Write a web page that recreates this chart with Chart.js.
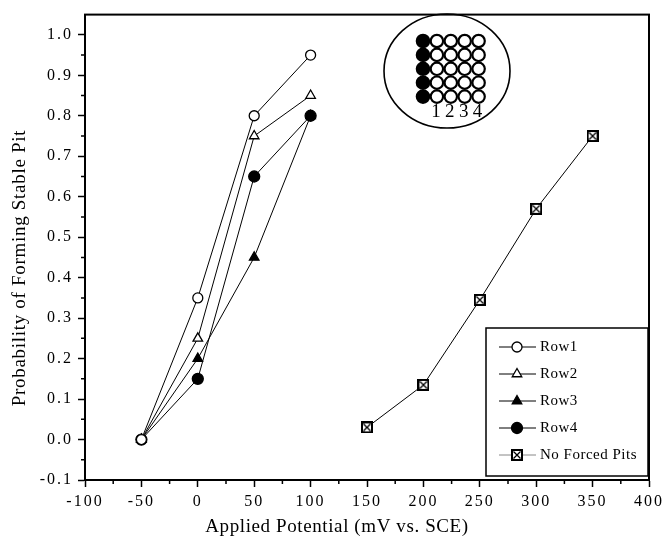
<!DOCTYPE html>
<html>
<head>
<meta charset="utf-8">
<script src="https://cdn.jsdelivr.net/npm/chart.js@4.4.1/dist/chart.umd.min.js"></script>
<style>
  html, body { margin: 0; padding: 0; background: #fff; }
  #wrap { width: 666px; height: 546px; }
</style>
</head>
<body>
<div id="wrap"><canvas id="pits-chart" width="666" height="546"></canvas></div>
<script>
    // applied potential (mV vs. SCE)
    const rowPotentials = [-50, 0, 50, 100];
    const row1 = [0.00, 0.35, 0.80, 0.95];
    const row2 = [0.00, 0.25, 0.75, 0.85];
    const row3 = [0.00, 0.20, 0.45, 0.80];
    const row4 = [0.00, 0.15, 0.65, 0.80];

    const noForcedPotentials = [150, 200, 250, 300, 350];
    const noForced = [0.03, 0.135, 0.345, 0.57, 0.75];

    const seriesNames = ["Row1", "Row2", "Row3", "Row4", "No Forced Pits"];

    const xTicks = [-100, -50, 0, 50, 100, 150, 200, 250, 300, 350, 400];
    const yTicks = [-0.1, 0.0, 0.1, 0.2, 0.3, 0.4, 0.5, 0.6, 0.7, 0.8, 0.9, 1.0];
    const insetColumns = ["1", "2", "3", "4"];

    const serif = "'Liberation Serif', 'DejaVu Serif', serif";

    function toPoints(xs, ys) {
      return xs.map((x, i) => ({ x: x, y: ys[i] }));
    }

    // square with an X through it
    const boxCross = document.createElement("canvas");
    boxCross.width = 12;
    boxCross.height = 12;
    (function () {
      const c = boxCross.getContext("2d");
      c.fillStyle = "#fff";
      c.fillRect(1, 1, 10, 10);
      c.strokeStyle = "#000";
      c.lineWidth = 2;
      c.strokeRect(1, 1, 10, 10);
      c.lineWidth = 1.3;
      c.beginPath();
      c.moveTo(2.5, 2.5); c.lineTo(9.5, 9.5);
      c.moveTo(9.5, 2.5); c.lineTo(2.5, 9.5);
      c.stroke();
    })();

    function series(label, xs, ys, style, fill, radius) {
      return {
        label: label,
        data: toPoints(xs, ys),
        borderColor: "#000",
        borderWidth: 1,
        pointStyle: style,
        pointRadius: radius,
        pointBorderWidth: 1.3,
        pointBorderColor: "#000",
        pointBackgroundColor: fill,
        tension: 0,
        fill: false
      };
    }

    const datasets = [
      series(seriesNames[0], rowPotentials, row1, "circle", "#fff", 5),
      series(seriesNames[1], rowPotentials, row2, "triangle", "#fff", 5.5),
      series(seriesNames[2], rowPotentials, row3, "triangle", "#000", 5.5),
      series(seriesNames[3], rowPotentials, row4, "circle", "#000", 5.5),
      series(seriesNames[4], noForcedPotentials, noForced, boxCross, "#fff", 6)
    ];

    // frame, minor ticks, axis titles, inset and legend
    const decorations = {
      id: "decorations",
      beforeDraw(chart) {
        chart.ctx.letterSpacing = "2px";
      },
      afterDraw(chart) {
        const ctx = chart.ctx;
        const area = chart.chartArea;
        const xs = chart.scales.x;
        const ys = chart.scales.y;
        ctx.save();

        // frame
        ctx.strokeStyle = "#000";
        ctx.lineWidth = 2;
        ctx.strokeRect(area.left, area.top, area.right - area.left, area.bottom - area.top);

        // minor ticks
        ctx.lineWidth = 1.5;
        ctx.beginPath();
        for (let v = -75; v < 400; v += 50) {
          const px = xs.getPixelForValue(v);
          ctx.moveTo(px, area.bottom);
          ctx.lineTo(px, area.bottom + 4);
        }
        for (let v = -0.05; v < 1.04; v += 0.1) {
          const py = ys.getPixelForValue(v);
          ctx.moveTo(area.left, py);
          ctx.lineTo(area.left - 4, py);
        }
        ctx.stroke();

        // axis titles
        ctx.fillStyle = "#000";
        ctx.font = "19px " + serif;
        ctx.letterSpacing = "0.6px";
        ctx.textAlign = "center";
        ctx.textBaseline = "middle";
        ctx.fillText("Applied Potential (mV vs. SCE)", 337, 527);
        ctx.save();
        ctx.translate(20, 268);
        ctx.rotate(-Math.PI / 2);
        ctx.letterSpacing = "0.7px";
        ctx.fillText("Probability of Forming Stable Pit", 0, 0);
        ctx.restore();

        // inset: specimen with forced pit column
        ctx.lineWidth = 1.6;
        ctx.beginPath();
        ctx.ellipse(447, 71, 63, 57, 0, 0, Math.PI * 2);
        ctx.stroke();
        const gx = 423, gy = 41, step = 13.9, r = 6.2;
        for (let row = 0; row < 5; row++) {
          for (let col = 0; col < 5; col++) {
            ctx.beginPath();
            ctx.arc(gx + col * step, gy + row * step, r, 0, Math.PI * 2);
            ctx.fillStyle = col === 0 ? "#000" : "#fff";
            ctx.fill();
            ctx.lineWidth = 2.2;
            ctx.stroke();
          }
        }
        ctx.fillStyle = "#000";
        ctx.font = "19px " + serif;
        ctx.letterSpacing = "0px";
        insetColumns.forEach((t, i) => {
          ctx.fillText(t, gx + (i + 1) * step - 1, 112);
        });

        // legend
        ctx.letterSpacing = "0.5px";
        ctx.lineWidth = 1.5;
        ctx.strokeStyle = "#000";
        ctx.fillStyle = "#fff";
        ctx.fillRect(486, 328, 162, 148);
        ctx.strokeRect(486, 328, 162, 148);
        ctx.font = "15px " + serif;
        ctx.textAlign = "left";
        chart.data.datasets.forEach((ds, i) => {
          const y = 347 + i * 27;
          ctx.lineWidth = 1;
          ctx.strokeStyle = i === 4 ? "#888" : "#000";
          ctx.beginPath();
          ctx.moveTo(499, y);
          ctx.lineTo(536, y);
          ctx.stroke();
          ctx.strokeStyle = "#000";
          ctx.fillStyle = ds.pointBackgroundColor;
          ctx.lineWidth = ds.pointBorderWidth;
          Chart.helpers.drawPoint(ctx, {
            pointStyle: ds.pointStyle,
            radius: ds.pointRadius,
            rotation: 0,
            borderWidth: ds.pointBorderWidth
          }, 517, y);
          ctx.fillStyle = "#000";
          ctx.fillText(ds.label, 540, y);
        });
        ctx.restore();
      }
    };

    const ctx = document.getElementById("pits-chart").getContext("2d");

    const chart = new Chart(ctx, {
      type: "line",
      data: { datasets: datasets },
      options: {
        responsive: false,
        animation: false,
        layout: { padding: { left: 0, top: 10, right: 15, bottom: 0 } },
        scales: {
          x: {
            type: "linear",
            min: -100,
            max: 400,
            afterFit: (scale) => { scale.height = 66; },
            afterBuildTicks: (scale) => { scale.ticks = xTicks.map(v => ({ value: v })); },
            grid: {
              drawOnChartArea: false,
              drawTicks: true,
              tickLength: 7,
              tickWidth: 1.5,
              tickColor: "#000"
            },
            border: { display: true, color: "#000", width: 2 },
            ticks: {
              color: "#000",
              padding: 5,
              maxRotation: 0,
              font: { family: serif, size: 16 },
              callback: (v) => String(v)
            }
          },
          y: {
            min: -0.1,
            max: 1.05,
            afterFit: (scale) => { scale.width = 85; },
            afterBuildTicks: (scale) => { scale.ticks = yTicks.map(v => ({ value: v })); },
            grid: {
              drawOnChartArea: false,
              drawTicks: true,
              tickLength: 7,
              tickWidth: 1.5,
              tickColor: "#000"
            },
            border: { display: true, color: "#000", width: 2 },
            ticks: {
              color: "#000",
              padding: 5,
              font: { family: serif, size: 16 },
              callback: (v) => Number(v).toFixed(1)
            }
          }
        },
        plugins: {
          legend: { display: false },
          tooltip: { enabled: false }
        }
      },
      plugins: [decorations]
    });
</script>
</body>
</html>
